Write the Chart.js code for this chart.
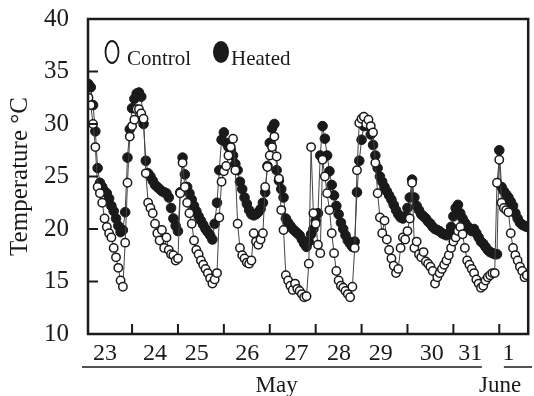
<!DOCTYPE html>
<html>
<head>
<meta charset="utf-8">
<script src="https://cdn.jsdelivr.net/npm/chart.js@4"></script>
<style>
  html, body { margin: 0; padding: 0; background: #fff; }
  #wrap { width: 534px; height: 396px; position: relative; }
</style>
</head>
<body>
<div id="wrap"><canvas id="temp-chart" width="534" height="396"></canvas></div>
<script>
// readings every 0.05 day, starting 0.05 day into 23 May (one row per day)
const dayStep = 0.05;
const heated = [
    33.8, 33.5, 31.8, 29.3, 25.8, 24.4, 24.0, 23.6, 23.4, 22.9, 22.2, 21.7, 21.0, 20.3, 19.7, 19.9, 21.6, 26.8, 29.5, 31.5,
    32.4, 32.9, 33.0, 32.6, 30.0, 26.5, 25.3, 25.0, 24.6, 24.2, 24.0, 23.8, 23.6, 23.5, 23.4, 23.0, 22.0, 21.0, 20.3, 19.8,
    23.5, 26.8, 25.2, 24.0, 23.4, 22.8, 22.2, 21.7, 21.2, 20.8, 20.4, 20.0, 19.7, 19.4, 19.0, 20.5, 22.5, 25.6, 28.5, 29.2,
    28.2, 27.8, 27.5, 27.0, 26.2, 25.6, 24.5, 23.8, 23.0, 22.4, 21.8, 21.4, 21.3, 21.4, 21.6, 21.9, 22.5, 23.5, 26.0, 28.2,
    29.6, 30.0, 25.6, 24.6, 23.8, 23.0, 21.0, 20.6, 20.3, 20.0, 19.8, 19.6, 19.4, 19.0, 18.6, 18.3, 18.8, 19.5, 20.0, 20.8,
    21.5, 27.0, 29.8, 28.6, 27.0, 25.5, 24.2, 23.2, 22.2, 21.4, 20.6, 20.0, 19.4, 18.9, 18.6, 18.3, 18.8, 23.5, 26.5, 28.5,
    29.8, 30.3, 29.8, 29.0, 28.0, 27.0, 25.8, 25.0, 24.5, 24.0, 23.6, 23.2, 22.8, 22.3, 21.8, 21.4, 21.1, 21.0, 21.2, 22.0,
    23.0, 24.7, 23.0, 22.2, 21.8, 21.4, 21.2, 21.0, 20.7, 20.5, 20.2, 20.0, 19.9, 19.8, 19.6, 19.5, 19.4, 19.6, 20.2, 21.2,
    22.0, 22.3, 21.5, 21.0, 20.6, 20.3, 20.0, 19.8, 20.0, 19.6, 19.2, 18.8, 18.6, 18.3, 18.0, 17.8, 17.7, 17.6, 17.6, 27.5,
    24.0, 23.6, 23.3, 23.0, 22.6, 22.2, 21.5, 21.0, 20.6, 20.4, 20.3, 20.2
];
const control = [
    32.5, 31.8, 30.0, 27.8, 24.0, 23.4, 22.5, 21.0, 20.2, 19.6, 19.2, 18.2, 17.3, 16.3, 15.1, 14.5, 18.7, 24.4, 28.8, 29.8,
    30.4, 31.4, 31.4, 31.0, 30.5, 25.3, 22.5, 22.0, 21.5, 20.5, 19.6, 18.9, 19.9, 18.2, 19.2, 18.0, 17.6, 17.5, 17.0, 17.2,
    23.4, 26.3, 24.0, 22.5, 21.5, 20.5, 18.9, 18.0, 17.6, 17.0, 16.6, 16.2, 15.8, 15.3, 14.8, 15.2, 15.8, 21.1, 24.5, 25.5,
    26.0, 27.0, 27.8, 28.6, 25.6, 20.5, 18.2, 17.5, 17.2, 16.8, 16.7, 17.0, 19.6, 18.8, 18.5, 19.0, 19.6, 24.0, 25.9, 27.0,
    27.8, 28.8, 26.9, 24.8, 21.8, 19.9, 15.6, 15.1, 14.6, 14.2, 14.8, 14.3, 14.1, 13.8, 13.5, 13.6, 16.7, 27.8, 21.5, 20.5,
    18.5, 17.7, 26.6, 25.0, 23.4, 21.8, 19.6, 17.7, 16.0, 15.1, 14.6, 14.4, 14.1, 13.8, 13.5, 14.5, 18.2, 25.6, 30.1, 30.5,
    30.7, 30.0, 30.4, 29.8, 29.2, 26.3, 23.4, 21.1, 19.6, 20.8, 19.0, 18.0, 17.2, 16.5, 15.8, 16.2, 18.2, 19.2, 19.0, 19.8,
    21.0, 24.4, 18.2, 18.8, 17.6, 17.3, 17.8, 16.9, 16.7, 16.4, 16.0, 14.8, 15.4, 15.8, 16.2, 16.6, 17.0, 17.5, 18.2, 18.8,
    19.2, 19.8, 20.2, 19.5, 18.2, 17.0, 16.6, 16.2, 15.8, 15.2, 14.8, 14.4, 14.6, 15.1, 15.4, 15.6, 15.8, 15.8, 24.4, 26.6,
    22.5, 22.0, 21.8, 21.6, 19.6, 18.2, 17.5, 17.0, 16.4, 16.0, 15.4, 15.6
];
const dayLabels = ["23", "24", "25", "26", "27", "28", "29", "30", "31", "1"];
const dayLabelPos = [0.41, 1.5, 2.41, 3.51, 4.58, 5.51, 6.42, 7.53, 8.37, 9.2];
const dayBreaks = [1, 2, 3, 4, 5, 6, 7, 8, 9];
const yTicks = [10, 15, 20, 25, 30, 35, 40];

const serif = '"Times New Roman", "Liberation Serif", "DejaVu Serif", serif';
const ink = '#1a1a1a';

function toPoints(values) {
    return values.map((v, i) => ({ x: +((i + 1) * dayStep).toFixed(2), y: v }));
}

// frame, inward ticks, legend and month captions
const decorPlugin = {
    id: 'decor',
    afterDraw(chart) {
        const ctx = chart.ctx;
        const area = chart.chartArea;
        const xs = chart.scales.x;
        const ys = chart.scales.y;
        ctx.save();
        ctx.strokeStyle = ink;

        // inward tick marks
        ctx.lineWidth = 2;
        dayBreaks.forEach(d => {
            const px = xs.getPixelForValue(d);
            ctx.beginPath();
            ctx.moveTo(px, area.bottom);
            ctx.lineTo(px, area.bottom - 10);
            ctx.stroke();
        });
        yTicks.slice(1, -1).forEach(v => {
            const py = ys.getPixelForValue(v);
            ctx.beginPath();
            ctx.moveTo(area.left, py);
            ctx.lineTo(area.left + 10, py);
            ctx.stroke();
        });

        // frame
        ctx.lineWidth = 2.5;
        ctx.strokeRect(area.left, area.top, area.right - area.left, area.bottom - area.top);

        // legend inside the plot
        const ly = area.top + 33;
        ctx.lineWidth = 1.8;
        ctx.beginPath();
        ctx.ellipse(area.left + 24, ly, 6.5, 11, 0, 0, Math.PI * 2);
        ctx.stroke();
        ctx.fillStyle = ink;
        ctx.beginPath();
        ctx.ellipse(area.left + 133, ly, 8, 11, 0, 0, Math.PI * 2);
        ctx.fill();
        ctx.font = '21px ' + serif;
        ctx.textBaseline = 'alphabetic';
        ctx.textAlign = 'left';
        ctx.fillText('Control', area.left + 39, ly + 13);
        ctx.fillText('Heated', area.left + 143, ly + 13);

        // month captions under the day labels
        const lineY = 367;
        ctx.lineWidth = 1.5;
        ctx.beginPath();
        ctx.moveTo(82, lineY);
        ctx.lineTo(xs.getPixelForValue(8.62), lineY);
        ctx.moveTo(xs.getPixelForValue(9.1), lineY);
        ctx.lineTo(532, lineY);
        ctx.stroke();
        ctx.font = '23px ' + serif;
        ctx.textAlign = 'center';
        ctx.fillText('May', xs.getPixelForValue(4.15), 392);
        ctx.fillText('June', xs.getPixelForValue(9.02), 392);
        ctx.restore();
    }
};

new Chart(document.getElementById('temp-chart').getContext('2d'), {
    type: 'line',
    data: {
        datasets: [
            {
                label: 'Control',
                data: toPoints(control),
                borderColor: '#444',
                borderWidth: 1,
                pointRadius: 4.2,
                pointBorderWidth: 1.5,
                pointBorderColor: ink,
                pointBackgroundColor: '#fff'
            },
            {
                label: 'Heated',
                data: toPoints(heated),
                borderColor: '#444',
                borderWidth: 1,
                pointRadius: 4.8,
                pointBorderWidth: 1,
                pointBorderColor: ink,
                pointBackgroundColor: ink
            }
        ]
    },
    options: {
        responsive: false,
        animation: false,
        events: [],
        layout: { padding: { top: 19, right: 4, left: 0, bottom: 0 } },
        plugins: {
            legend: { display: false },
            tooltip: { enabled: false }
        },
        scales: {
            x: {
                type: 'linear',
                min: 0.04,
                max: 9.63,
                afterBuildTicks: scale => {
                    scale.ticks = dayLabelPos.map(v => ({ value: v }));
                },
                afterFit: scale => {
                    scale.height = 62;
                    scale.paddingLeft = 0;
                    scale.paddingRight = 0;
                },
                grid: { display: false },
                border: { display: false },
                ticks: {
                    autoSkip: false,
                    maxRotation: 0,
                    padding: -3,
                    color: ink,
                    font: { family: serif, size: 24 },
                    callback: (value, index) => dayLabels[index]
                }
            },
            y: {
                min: 10,
                max: 40,
                afterBuildTicks: scale => {
                    scale.ticks = yTicks.map(v => ({ value: v }));
                },
                afterFit: scale => {
                    scale.width = 88;
                    scale.paddingTop = 0;
                    scale.paddingBottom = 0;
                },
                grid: { display: false },
                border: { display: false },
                title: {
                    display: true,
                    text: 'Temperature °C',
                    color: ink,
                    font: { family: serif, size: 25 },
                    padding: { top: 5, bottom: 0 }
                },
                ticks: {
                    padding: 11,
                    color: ink,
                    font: { family: serif, size: 25 }
                }
            }
        }
    },
    plugins: [decorPlugin]
});
</script>
</body>
</html>
